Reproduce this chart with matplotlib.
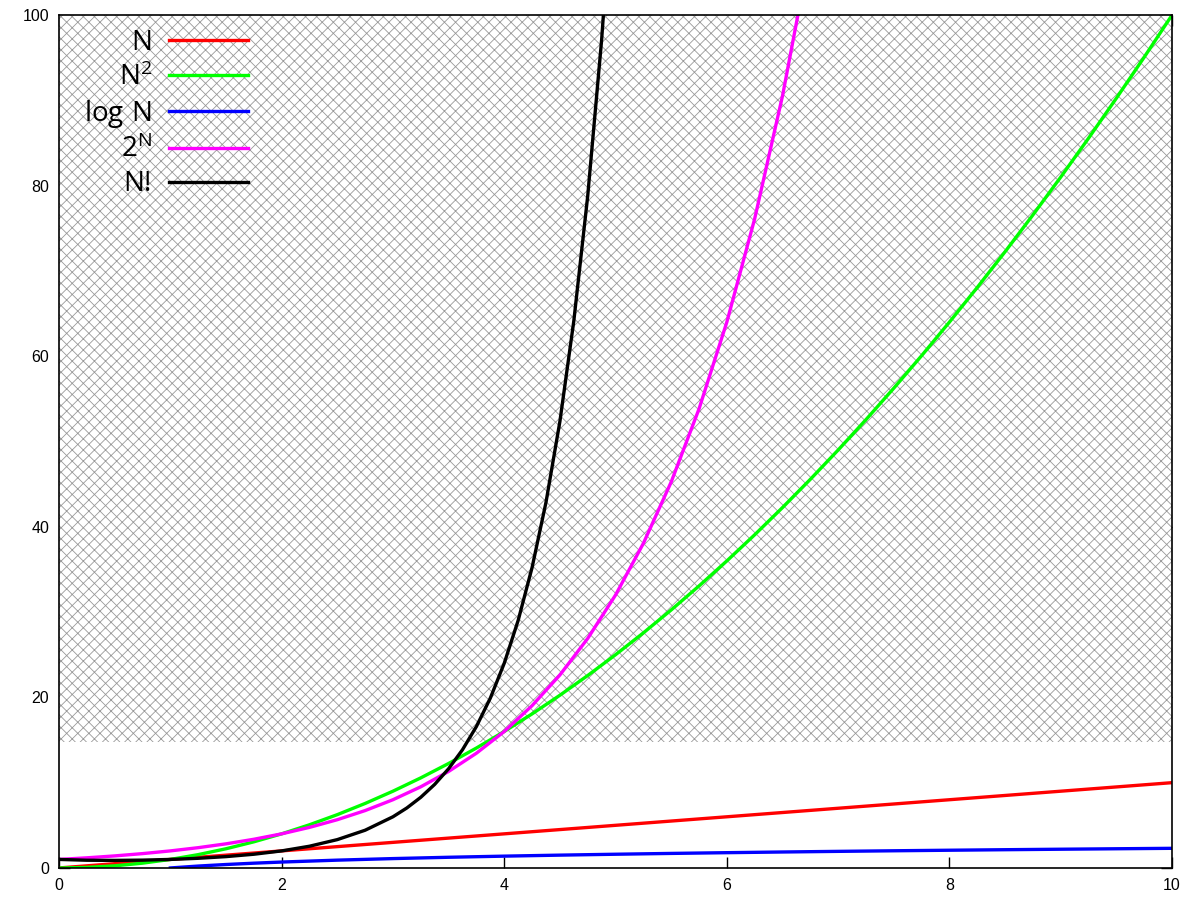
import matplotlib.pyplot as plt
import numpy as np

plt.rcParams['hatch.linewidth'] = 0.6
plt.rcParams['hatch.color'] = '#999999'

# sample points
x_lin = [0, 10]
y_lin = [0, 10]

x_sq = [0, 0.25, 0.5, 0.75, 1, 1.25, 1.5, 1.75, 2, 2.25, 2.5, 2.75, 3, 3.25, 3.5, 3.75,
        4, 4.25, 4.5, 4.75, 5, 5.25, 5.5, 5.75, 6, 6.25, 6.5, 6.75, 7, 7.25, 7.5, 7.75,
        8, 8.25, 8.5, 8.75, 9, 9.25, 9.5, 9.75, 10]
y_sq = [0, 0.0625, 0.25, 0.5625, 1, 1.5625, 2.25, 3.0625, 4, 5.0625, 6.25, 7.5625, 9,
        10.5625, 12.25, 14.0625, 16, 18.0625, 20.25, 22.5625, 25, 27.5625, 30.25, 33.0625,
        36, 39.0625, 42.25, 45.5625, 49, 52.5625, 56.25, 60.0625, 64, 68.0625, 72.25,
        76.5625, 81, 85.5625, 90.25, 95.0625, 100]

x_log = [1, 1.25, 1.5, 1.75, 2, 2.5, 3, 3.5, 4, 4.5, 5, 5.5, 6, 6.5, 7, 7.5, 8, 8.5, 9, 9.5, 10]
y_log = [0, 0.223, 0.405, 0.560, 0.693, 0.916, 1.099, 1.253, 1.386, 1.504, 1.609, 1.705,
         1.792, 1.872, 1.946, 2.015, 2.079, 2.140, 2.197, 2.251, 2.303]

x_exp = [0, 0.25, 0.5, 0.75, 1, 1.25, 1.5, 1.75, 2, 2.25, 2.5, 2.75, 3, 3.25, 3.5, 3.75,
         4, 4.25, 4.5, 4.75, 5, 5.25, 5.5, 5.75, 6, 6.25, 6.5, 6.75]
y_exp = [1, 1.189, 1.414, 1.682, 2, 2.378, 2.828, 3.364, 4, 4.757, 5.657, 6.727, 8, 9.514,
         11.314, 13.454, 16, 19.027, 22.627, 26.909, 32, 38.055, 45.255, 53.817, 64,
         76.109, 90.510, 107.635]

x_fact = [0, 0.25, 0.5, 0.75, 1, 1.25, 1.5, 1.75, 2, 2.25, 2.5, 2.75, 3, 3.125, 3.25,
          3.375, 3.5, 3.625, 3.75, 3.875, 4, 4.125, 4.25, 4.375, 4.5, 4.625, 4.75, 4.875, 5]
y_fact = [1, 0.906, 0.886, 0.919, 1, 1.133, 1.329, 1.608, 2, 2.549, 3.323, 4.423, 6, 7.035,
          8.285, 9.797, 11.632, 13.864, 16.586, 19.915, 24, 29.02, 35.212, 42.86, 52.343,
          64.12, 78.784, 97.09, 120]

labels = ['N', r'$\mathregular{N^2}$', r'$\mathregular{log\ N}$', r'$\mathregular{2^N}$', 'N!']
colors = ['#ff0000', '#00ff00', '#0000ff', '#ff00ff', '#000000']

fig = plt.figure(figsize=(12, 9), dpi=100)
ax = fig.add_axes([0.0492, 0.0356, 0.9275, 0.9477])

# shaded band, drawn over the ticks but under the curves
ax.axhspan(14.8, 100, facecolor='white', edgecolor='#999999', hatch='xxx', lw=0, zorder=2.6)

lw = 2.4
series = [(x_lin, y_lin), (x_sq, y_sq), (x_log, y_log), (x_exp, y_exp), (x_fact, y_fact)]
for (xs, ys), lab, c in zip(series, labels, colors):
    ax.plot(xs, ys, color=c, lw=lw, label=lab, zorder=3)

ax.set_xlim(0, 10)
ax.set_ylim(0, 100)
ax.set_xticks(np.arange(0, 11, 2))
ax.set_yticks(np.arange(0, 101, 20))
ax.tick_params(direction='in', length=8, width=1, labelsize=11.5, pad=7,
               top=True, right=True)
for t in ax.get_xticklabels() + ax.get_yticklabels():
    t.set_fontfamily('Liberation Sans')
for s in ax.spines.values():
    s.set_linewidth(1.2)
    s.set_zorder(4)

ax.legend(loc='upper left', bbox_to_anchor=(0.010, 1.0), frameon=False, markerfirst=False,
          prop={'family': 'Open Sans', 'size': 20}, handlelength=2.85, handletextpad=0.6,
          labelspacing=0.22, borderpad=0.0)

plt.savefig('out.png', dpi=100)
